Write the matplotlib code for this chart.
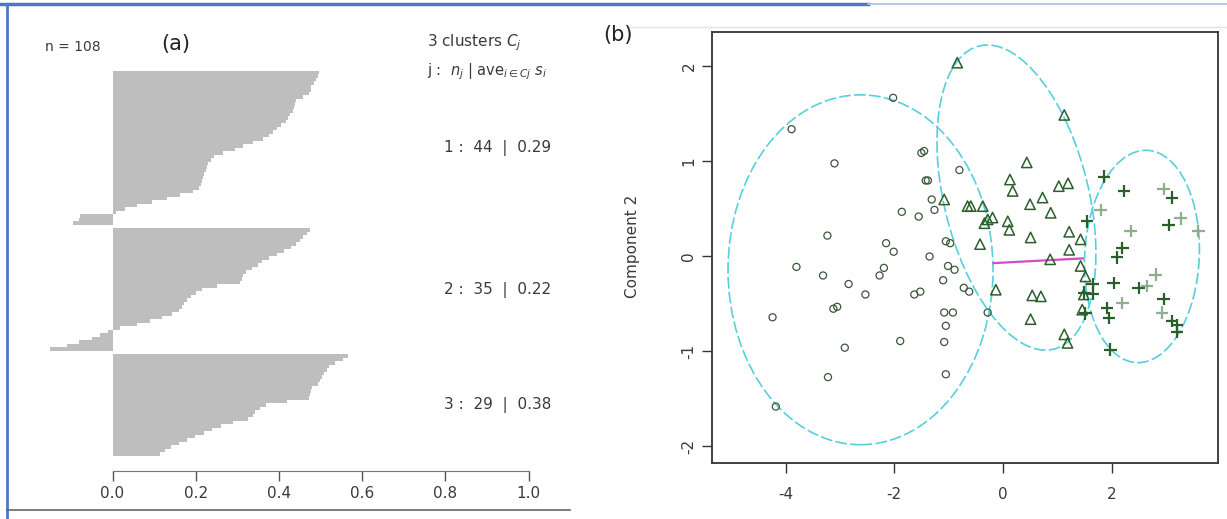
import numpy as np
import matplotlib.pyplot as plt
from matplotlib.lines import Line2D
from matplotlib.patches import Ellipse

plt.rcParams['axes.unicode_minus'] = False

# ---- panel (a): silhouette widths, sorted inside each cluster ----
sil_c1 = [0.497, 0.494, 0.489, 0.484, 0.478, 0.476, 0.473, 0.458, 0.441, 0.438,
          0.436, 0.433, 0.426, 0.422, 0.418, 0.406, 0.396, 0.385, 0.377, 0.362,
          0.338, 0.314, 0.294, 0.266, 0.244, 0.236, 0.230, 0.226, 0.224, 0.221,
          0.218, 0.216, 0.213, 0.208, 0.194, 0.162, 0.130, 0.094, 0.058, 0.030,
          0.008, -0.078, -0.080, -0.095]
sil_c2 = [0.475, 0.467, 0.459, 0.450, 0.442, 0.429, 0.413, 0.395, 0.377, 0.359,
          0.349, 0.335, 0.321, 0.314, 0.312, 0.307, 0.251, 0.215, 0.201, 0.188,
          0.179, 0.172, 0.167, 0.159, 0.143, 0.119, 0.091, 0.058, 0.018, -0.010,
          -0.030, -0.050, -0.080, -0.110, -0.150]
sil_c3 = [0.565, 0.555, 0.535, 0.520, 0.515, 0.508, 0.503, 0.498, 0.493, 0.480,
          0.476, 0.474, 0.472, 0.420, 0.368, 0.355, 0.342, 0.337, 0.325, 0.290,
          0.262, 0.240, 0.220, 0.198, 0.178, 0.160, 0.140, 0.125, 0.113]
sil_avg = [0.29, 0.22, 0.38]
n_total = 108
sil_ticks = [0.0, 0.2, 0.4, 0.6, 0.8, 1.0]

# ---- panel (b): cluster plot on the first two components ----
c1_x = [-3.89, -2.02, -3.10, -1.50, -1.45, -0.80, -1.38, -1.42, -1.31, -1.26,
        -1.86, -1.55, -3.23, -2.15, -2.01, -1.35, -1.05, -0.97, -1.01, -0.89,
        -3.80, -3.31, -2.84, -2.53, -2.19, -2.27, -1.10, -1.63, -1.52, -3.12,
        -3.05, -4.24, -1.08, -0.92, -1.05, -2.91, -1.89, -1.08, -3.22, -1.05,
        -4.18, -0.62, -0.72, -0.28]
c1_y = [1.34, 1.67, 0.98, 1.09, 1.11, 0.91, 0.80, 0.80, 0.60, 0.49,
        0.47, 0.42, 0.22, 0.14, 0.05, 0.00, 0.16, 0.14, -0.10, -0.14,
        -0.11, -0.20, -0.29, -0.40, -0.12, -0.20, -0.25, -0.40, -0.37, -0.55,
        -0.53, -0.64, -0.59, -0.59, -0.73, -0.96, -0.89, -0.90, -1.27, -1.24,
        -1.58, -0.37, -0.33, -0.59]
c2_x = [-0.84, -1.08, -0.65, 1.13, 0.44, 0.13, 0.18, 1.03, 1.20, 0.73,
        0.50, 0.88, -0.59, -0.37, -0.28, -0.34, -0.19, 0.09, 0.12, -0.42,
        0.51, 1.22, 1.43, 1.22, 0.87, 1.43, 1.52, -0.13, 0.54, 0.70,
        1.49, 0.51, 1.46, 1.13, 1.19]
c2_y = [2.04, 0.60, 0.53, 1.49, 0.99, 0.81, 0.69, 0.74, 0.77, 0.62,
        0.55, 0.46, 0.53, 0.53, 0.39, 0.35, 0.41, 0.37, 0.28, 0.13,
        0.20, 0.26, 0.18, 0.07, -0.03, -0.10, -0.21, -0.35, -0.41, -0.42,
        -0.40, -0.66, -0.56, -0.82, -0.91]
c3_x = [1.86, 2.23, 2.96, 3.11, 1.80, 1.55, 2.35, 3.05, 3.27, 3.60,
        2.20, 2.10, 2.04, 2.50, 2.65, 2.81, 1.65, 1.65, 1.92, 1.95,
        2.20, 2.96, 2.93, 3.11, 3.20, 1.98, 1.52, 3.20, 1.50]
c3_y = [0.84, 0.69, 0.71, 0.62, 0.49, 0.37, 0.27, 0.33, 0.40, 0.27,
        0.09, -0.01, -0.28, -0.33, -0.31, -0.19, -0.29, -0.39, -0.54, -0.65,
        -0.49, -0.45, -0.59, -0.68, -0.79, -0.98, -0.60, -0.72, -0.38]
c3_faint = [2, 4, 6, 8, 9, 14, 15, 20, 22]

# spanning ellipses: centre and shape matrix (sxx, syy, sxy)
ell_cx = [-2.62, 0.25, 2.56]
ell_cy = [-0.14, 0.62, 0.00]
ell_sxx = [5.95, 2.14, 1.12]
ell_syy = [3.39, 2.58, 1.25]
ell_sxy = [0.0, -0.86, 0.08]

# segment between clusters 1 and 3
seg_x = [-0.17, 1.47]
seg_y = [-0.07, -0.02]

W, H = 1227, 519
fig = plt.figure(figsize=(W / 100, H / 100), dpi=100)


def px(x, y):
    return x / W, 1 - y / H


txt = '#3a3a3a'

# ---------------- panel (a) ----------------
axa = fig.add_axes([29.3 / W, 48 / H, 540.8 / W, 451 / H])
pos = 0
for k, vals in enumerate([sil_c1, sil_c2, sil_c3]):
    yy = pos + np.arange(len(vals))
    axa.barh(yy, vals, height=1.0, align='edge', color='#bebebe',
             linewidth=0, antialiased=False)
    mid = pos + len(vals) / 2
    axa.text(1.054, mid, f"{k + 1} :  {len(vals)}  |  {sil_avg[k]:.2f}",
             ha='right', va='center', fontsize=11, color=txt)
    pos += len(vals) + 1

axa.set_xlim(-0.2, 1.1)
axa.set_ylim(114.38, -14.58)
for s in ['top', 'left', 'right']:
    axa.spines[s].set_visible(False)
axa.spines['bottom'].set_bounds(0, 1)
axa.spines['bottom'].set_color('#777777')
axa.set_yticks([])
axa.set_xticks(sil_ticks)
axa.set_xticklabels([f"{t:.1f}" for t in sil_ticks])
axa.tick_params(axis='x', direction='out', length=7, width=1, colors='#555555',
                labelcolor=txt, labelsize=11, pad=4)

fig.text(*px(45, 47), f"n = {n_total}", ha='left', va='center', fontsize=10, color=txt)
fig.text(*px(176, 44), "(a)", ha='center', va='center', fontsize=15, color='#222222')
fig.text(*px(427, 43), r"3 clusters $C_j$", ha='left', va='center', fontsize=11, color=txt)
fig.text(*px(427, 72), r"j :  $n_j$ | ave$_{i\in Cj}$ $s_i$", ha='left', va='center',
         fontsize=10.5, color=txt)

# ---------------- panel (b) ----------------
axb = fig.add_axes([711.7 / W, 56 / H, 506.3 / W, 431 / H])
green = '#2c5e2c'
axb.scatter(c1_x, c1_y, s=26, marker='o', facecolors='none', edgecolors='#3b553b',
            linewidths=0.9, zorder=3)
axb.scatter(c2_x, c2_y, s=55, marker='^', facecolors='none', edgecolors=green,
            linewidths=1.1, zorder=3)
c3_col = ['#8fae8f' if i in c3_faint else green for i in range(len(c3_x))]
axb.scatter(c3_x, c3_y, s=80, marker='+', c=c3_col, linewidths=1.6, zorder=3)

for cx, cy, sxx, syy, sxy in zip(ell_cx, ell_cy, ell_sxx, ell_syy, ell_sxy):
    vals, vecs = np.linalg.eigh([[sxx, sxy], [sxy, syy]])
    ang = np.degrees(np.arctan2(vecs[1, 1], vecs[0, 1]))
    axb.add_patch(Ellipse((cx, cy), 2 * np.sqrt(vals[1]), 2 * np.sqrt(vals[0]),
                          angle=ang, fill=False, edgecolor='#55d0dc',
                          linewidth=1.2, linestyle=(0, (7, 2)), zorder=2))

axb.plot(seg_x, seg_y, color='#d24cc4', linewidth=1.6, zorder=2)

axb.set_xlim(-5.36, 3.96)
axb.set_ylim(-2.174, 2.363)
axb.set_xticks([-4, -2, 0, 2])
axb.set_yticks([-2, -1, 0, 1, 2])
axb.set_yticklabels(['-2', '-1', '0', '1', '2'], rotation=90, va='center')
axb.tick_params(direction='out', length=7, width=1, colors='#333333',
                labelcolor=txt, labelsize=11)
axb.tick_params(axis='x', pad=10)
axb.tick_params(axis='y', pad=4)
for s in axb.spines.values():
    s.set_color('#333333')
    s.set_linewidth(1.3)

fig.text(*px(618, 35), "(b)", ha='center', va='center', fontsize=15, color='#222222')
fig.text(*px(633, 246), "Component 2", ha='center', va='center', rotation=90,
         fontsize=11, color=txt)

# ---------------- page frame ----------------
def fline(x0, y0, x1, y1, **kw):
    fig.add_artist(Line2D([x0 / W, x1 / W], [1 - y0 / H, 1 - y1 / H],
                          transform=fig.transFigure, **kw))

fline(0, 4, 868, 4, color='#4a78c2', linewidth=2.5)
fline(868, 4, W, 4, color='#a9bfe3', linewidth=1.2)
fline(7, 4, 7, H, color='#4a78c2', linewidth=2)
fline(7, 510, 570, 510, color='#666666', linewidth=1.2)
fline(627, 27, W, 27, color='#e2e2e2', linewidth=1)

fig.savefig('out.png', dpi=100)
